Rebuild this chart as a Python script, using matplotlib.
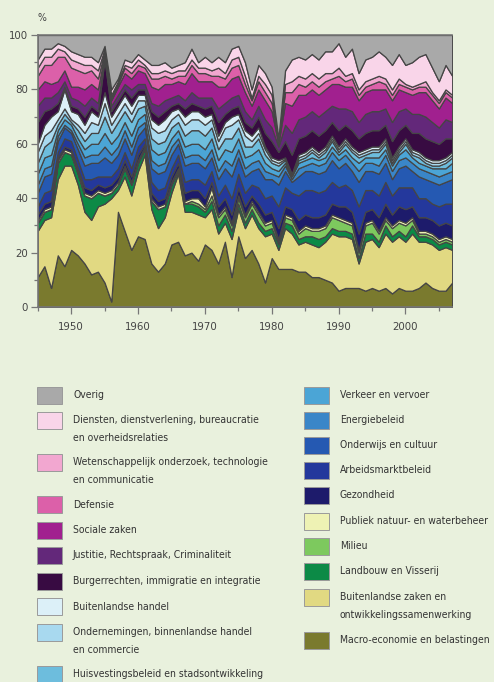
import matplotlib
matplotlib.use("Agg")
import matplotlib.pyplot as plt
from matplotlib import font_manager
from matplotlib.patches import Rectangle
from matplotlib.ticker import MultipleLocator

years = list(range(1945, 2008))

# shares per year (%), bottom layer first
macro = [11, 15, 7, 19, 15, 21, 19, 16, 12, 13,
         9, 2, 35, 28, 21, 26, 25, 16, 13, 16,
         23, 24, 19, 20, 17, 23, 21, 16, 24, 11,
         26, 18, 21, 16, 9, 18, 14, 14, 14, 13,
         13, 11, 11, 10, 9, 6, 7, 7, 7, 6,
         7, 6, 7, 5, 7, 6, 6, 7, 9, 7,
         6, 6, 9]
buitenl_zaken = [17, 17, 26, 28, 37, 31, 26, 19, 20, 24,
                 29, 38, 8, 20, 20, 24, 31, 20, 16, 17,
                 19, 25, 16, 15, 17, 10, 15, 11, 7, 14,
                 10, 11, 13, 13, 17, 9, 7, 15, 13, 10,
                 11, 12, 11, 14, 18, 20, 19, 18, 9, 18,
                 18, 16, 20, 19, 19, 18, 21, 17, 15, 16,
                 15, 16, 12]
landbouw = [3, 3, 3, 6, 5, 4, 4, 6, 8, 5,
            3, 2, 2, 3, 4, 3, 2, 3, 7, 4,
            3, 1, 3, 3, 3, 2, 3, 3, 3, 3,
            2, 2, 2, 2, 2, 2, 2, 2, 3, 2,
            2, 3, 3, 2, 2, 2, 2, 2, 2, 3,
            2, 2, 3, 2, 2, 2, 3, 2, 2, 2,
            2, 2, 2]
milieu = [0, 0, 0, 0, 0, 0, 0, 0, 0, 0,
          0, 0, 0, 0, 0, 0, 0, 0, 0, 0,
          0, 0, 0, 1, 1, 1, 2, 3, 2, 2,
          2, 2, 2, 3, 2, 2, 1, 2, 2, 2,
          3, 2, 3, 3, 4, 4, 3, 3, 2, 3,
          4, 3, 2, 3, 3, 4, 2, 1, 1, 1,
          1, 1, 1]
publiek = [1, 1, 1, 1, 1, 1, 1, 1, 1, 1,
           1, 1, 1, 1, 1, 1, 1, 1, 1, 1,
           1, 1, 1, 1, 2, 1, 3, 1, 1, 1,
           1, 1, 1, 1, 1, 1, 1, 1, 1, 1,
           1, 1, 1, 1, 1, 1, 1, 1, 1, 1,
           1, 1, 1, 1, 1, 1, 1, 1, 1, 1,
           1, 1, 1]
gezondheid = [2, 2, 2, 1, 1, 1, 1, 2, 2, 2,
              2, 2, 2, 2, 2, 2, 1, 2, 2, 2,
              2, 2, 3, 3, 3, 3, 2, 3, 3, 3,
              3, 3, 2, 3, 3, 3, 4, 3, 3, 4,
              4, 4, 4, 4, 4, 4, 5, 4, 6, 4,
              4, 5, 5, 4, 5, 5, 4, 5, 5, 5,
              5, 5, 5]
arbeidsmarkt = [3, 4, 4, 2, 3, 3, 3, 3, 4, 3,
                4, 3, 3, 3, 3, 3, 2, 4, 4, 4,
                3, 3, 4, 4, 4, 5, 4, 4, 5, 6,
                5, 5, 4, 6, 6, 6, 8, 7, 6, 9,
                9, 10, 9, 9, 8, 7, 8, 8, 10, 8,
                7, 8, 8, 7, 7, 8, 7, 7, 7, 6,
                7, 7, 8]
onderwijs = [5, 6, 6, 4, 4, 3, 4, 5, 6, 5,
             7, 5, 5, 5, 5, 4, 4, 5, 6, 6,
             5, 4, 6, 6, 6, 6, 5, 6, 6, 8,
             6, 6, 5, 7, 7, 6, 8, 6, 4, 7,
             7, 7, 7, 7, 8, 7, 8, 7, 9, 7,
             7, 8, 7, 6, 7, 8, 6, 8, 7, 8,
             8, 8, 9]
energie = [3, 3, 3, 2, 1, 1, 2, 3, 3, 3,
           4, 3, 3, 3, 3, 3, 2, 3, 3, 3,
           3, 2, 3, 3, 3, 3, 3, 3, 3, 4,
           3, 3, 3, 3, 3, 2, 3, 2, 1, 3,
           2, 3, 3, 3, 3, 3, 3, 3, 4, 3,
           3, 3, 3, 3, 3, 3, 3, 3, 3, 3,
           3, 3, 3]
verkeer = [4, 4, 4, 2, 2, 2, 2, 3, 4, 4,
           5, 4, 4, 3, 4, 3, 3, 4, 4, 4,
           3, 3, 4, 4, 4, 4, 4, 4, 4, 5,
           4, 4, 3, 4, 3, 2, 2, 1, 1, 2,
           2, 2, 2, 2, 2, 2, 2, 2, 3, 2,
           2, 3, 2, 2, 2, 3, 2, 2, 2, 2,
           3, 2, 3]
huisvesting = [4, 4, 5, 2, 2, 1, 3, 3, 4, 4,
               6, 4, 5, 4, 5, 4, 3, 4, 4, 4,
               4, 3, 4, 5, 5, 5, 4, 4, 4, 5,
               4, 4, 3, 4, 3, 2, 2, 1, 0.5, 1,
               1, 2, 1, 2, 2, 1, 2, 2, 2, 1,
               2, 2, 2, 1, 1, 2, 1, 2, 1, 1,
               1, 2, 2]
ondernemingen = [4, 4, 4, 2, 2, 1, 2, 3, 4, 3,
                 5, 3, 3, 3, 3, 3, 2, 4, 4, 4,
                 3, 3, 4, 4, 4, 4, 3, 3, 4, 5,
                 3, 4, 2, 2, 2, 1, 1, 0.5, 0.5, 1,
                 1, 1, 1, 1, 1, 1, 1, 1, 1, 1,
                 1, 1, 1, 1, 1, 1, 1, 1, 1, 1,
                 1, 1, 1]
buitenl_handel = [3, 4, 5, 3, 7, 3, 4, 3, 4, 3,
                  4, 3, 3, 3, 3, 2, 2, 3, 3, 4,
                  3, 2, 3, 3, 3, 3, 2, 2, 2, 3,
                  2, 2, 2, 2, 1, 1, 1, 0.5, 0, 1,
                  1, 1, 1, 1, 1, 1, 1, 1, 1, 1,
                  1, 1, 1, 1, 1, 1, 1, 1, 1, 1,
                  1, 1, 1]
burgerrechten = [8, 5, 3, 3, 1, 2, 2, 3, 2, 2,
                 12, 2, 2, 2, 3, 2, 2, 3, 3, 3,
                 2, 2, 3, 3, 2, 3, 3, 5, 3, 3,
                 3, 3, 3, 4, 5, 6, 3, 6, 7, 6,
                 6, 6, 6, 6, 5, 6, 5, 6, 5, 6,
                 6, 6, 5, 6, 6, 5, 6, 7, 7, 7,
                 6, 7, 5]
justitie = [6, 5, 4, 4, 2, 3, 3, 4, 3, 3,
            1, 2, 2, 2, 3, 2, 2, 3, 4, 4,
            3, 3, 3, 4, 3, 4, 3, 5, 4, 4,
            4, 4, 3, 4, 5, 5, 2, 6, 8, 7,
            7, 7, 7, 7, 6, 8, 6, 7, 6, 7,
            7, 7, 6, 7, 7, 6, 7, 7, 8, 7,
            6, 7, 6]
sociale = [6, 6, 5, 4, 4, 4, 5, 6, 5, 5,
           1, 2, 3, 4, 4, 5, 4, 6, 6, 6,
           5, 5, 6, 7, 6, 6, 6, 8, 6, 7,
           7, 7, 5, 6, 7, 6, 1, 8, 10, 9,
           8, 8, 8, 8, 8, 9, 8, 9, 8, 8,
           8, 8, 7, 8, 8, 6, 7, 8, 9, 8,
           7, 8, 7]
defensie = [5, 6, 7, 9, 5, 7, 6, 6, 5, 4,
            1, 1, 1, 2, 2, 2, 2, 3, 4, 3,
            2, 2, 3, 3, 3, 3, 2, 4, 3, 4,
            4, 3, 2, 3, 3, 3, 1, 4, 5, 4,
            3, 3, 3, 3, 2, 3, 2, 3, 2, 2,
            2, 3, 2, 2, 2, 2, 2, 2, 2, 2,
            2, 2, 2]
wetenschap = [3, 3, 3, 3, 2, 3, 3, 3, 2, 3,
              1, 1, 1, 1, 2, 2, 1, 2, 2, 2,
              2, 2, 2, 2, 2, 2, 2, 3, 2, 3,
              3, 3, 1, 2, 3, 3, 0.5, 3, 4, 3,
              3, 3, 3, 3, 2, 3, 2, 2, 2, 2,
              2, 2, 2, 2, 2, 1, 1, 1, 2, 1,
              1, 1, 1]
diensten = [3, 3, 3, 2, 2, 3, 3, 3, 3, 3,
            1, 2, 1, 2, 2, 2, 2, 3, 3, 3,
            2, 2, 3, 4, 2, 4, 3, 4, 4, 4,
            4, 5, 3, 4, 4, 3, 0.5, 5, 8, 7,
            7, 7, 7, 8, 8, 9, 7, 9, 6, 8,
            8, 9, 8, 9, 9, 7, 9, 10, 10, 9,
            7, 9, 7]
overig = [9, 5, 5, 3, 4, 6, 7, 8, 8, 10,
          4, 20, 16, 9, 10, 7, 9, 11, 11, 10,
          12, 11, 10, 5, 10, 8, 10, 8, 10, 5,
          4, 10, 20, 11, 14, 19, 38, 13, 9, 8,
          9, 7, 9, 6, 6, 3, 8, 5, 14, 9,
          8, 6, 8, 11, 7, 11, 10, 8, 7, 12,
          17, 11, 15]

# bottom to top
series = [macro, buitenl_zaken, landbouw, milieu, publiek,
          gezondheid, arbeidsmarkt, onderwijs, energie, verkeer,
          huisvesting, ondernemingen, buitenl_handel,
          burgerrechten, justitie, sociale, defensie, wetenschap,
          diensten, overig]
colors = ["#7a7a2e", "#e1d982", "#0c8a46", "#7dc95e", "#eef2b4",
          "#1d1b6b", "#24389c", "#2559b2", "#3a86c8", "#4ba5d6",
          "#6dbddd", "#a8d9ef", "#dcf0f8",
          "#380b42", "#63287a", "#a1208f", "#dc60a9", "#f2a7d0",
          "#f9d5e9", "#a9a9a9"]

left_labels = ["Overig",
               "Diensten, dienstverlening, bureaucratie\nen overheidsrelaties",
               "Wetenschappelijk onderzoek, technologie\nen communicatie",
               "Defensie", "Sociale zaken",
               "Justitie, Rechtspraak, Criminaliteit",
               "Burgerrechten, immigratie en integratie",
               "Buitenlandse handel",
               "Ondernemingen, binnenlandse handel\nen commercie",
               "Huisvestingsbeleid en stadsontwikkeling"]
left_colors = ["#a9a9a9", "#f9d5e9", "#f2a7d0", "#dc60a9", "#a1208f",
               "#63287a", "#380b42", "#dcf0f8", "#a8d9ef", "#6dbddd"]
right_labels = ["Verkeer en vervoer", "Energiebeleid", "Onderwijs en cultuur",
                "Arbeidsmarktbeleid", "Gezondheid",
                "Publiek natuur- en waterbeheer", "Milieu",
                "Landbouw en Visserij",
                "Buitenlandse zaken en\nontwikkelingssamenwerking",
                "Macro-economie en belastingen"]
right_colors = ["#4ba5d6", "#3a86c8", "#2559b2", "#24389c", "#1d1b6b",
                "#eef2b4", "#7dc95e", "#0c8a46", "#e1d982", "#7a7a2e"]

# look for a narrow sans face, the reference uses one
narrow = None
for f in font_manager.fontManager.ttflist:
    if f.style != "normal" or f.weight not in (400, "normal", "regular"):
        continue
    if "Narrow" in f.name or "Condensed" in f.name or f.stretch in ("condensed", "semi-condensed"):
        narrow = f
        break

if narrow is not None:
    font = [narrow.name, "Liberation Sans", "DejaVu Sans"]
    stretch = narrow.stretch
    leg_size, tick_size = 7.5, 8.2
else:
    font = ["Liberation Sans", "DejaVu Sans"]
    stretch = "normal"
    leg_size, tick_size = 6.6, 7.4
plt.rcParams["font.family"] = font
plt.rcParams["font.stretch"] = stretch

bg = "#e9f1dd"
txt = "#333333"

W, H = 494, 682
fig = plt.figure(figsize=(W / 100, H / 100), dpi=100, facecolor=bg)
ax = fig.add_axes([37.7 / W, 1 - 307 / H, 414.5 / W, 272 / H])
ax.set_facecolor(bg)

ax.stackplot(years, series, colors=colors, edgecolor="#454545", linewidth=0.9)

ax.set_xlim(1945, 2007)
ax.set_ylim(0, 100)
ax.xaxis.set_minor_locator(MultipleLocator(5))
ax.yaxis.set_major_locator(MultipleLocator(20))
ax.yaxis.set_minor_locator(MultipleLocator(10))
ax.set_xticks([1950, 1960, 1970, 1980, 1990, 2000])
ax.tick_params(which="major", length=5, width=0.9, color="#777777",
               labelsize=tick_size, labelcolor="#444444")
ax.tick_params(axis="y", which="major", pad=2)
ax.tick_params(axis="x", which="major", pad=6)
ax.tick_params(which="minor", length=3, width=0.9, color="#777777")
for s in ["left", "bottom", "top"]:
    ax.spines[s].set_color("#777777")
    ax.spines[s].set_linewidth(1.2)
ax.spines["right"].set_visible(False)

fig.text(42 / W, 1 - 18 / H, "%", fontsize=leg_size, color="#444444",
         ha="center", va="center")

# legend drawn by hand in two columns
def legend_column(labels, cols, x_sw, x_tx, centers):
    for lab, c, yc in zip(labels, cols, centers):
        fig.add_artist(Rectangle((x_sw / W, 1 - (yc + 8.5) / H), 25 / W, 17 / H,
                                 transform=fig.transFigure, facecolor=c,
                                 edgecolor="#9a9a9a", linewidth=0.7))
        for i, line in enumerate(lab.split("\n")):
            fig.text(x_tx / W, 1 - (yc + i * 17.7) / H, line, fontsize=leg_size,
                     color=txt, ha="left", va="center")

legend_column(left_labels, left_colors, 37, 73,
              [395, 420, 462, 504.5, 530, 555, 581, 606.5, 632, 674])
legend_column(right_labels, right_colors, 303.5, 340,
              [395, 420, 445.5, 470, 495.5, 521, 546, 571.5, 597.5, 640])

fig.savefig("out.png", dpi=100, facecolor=bg)
